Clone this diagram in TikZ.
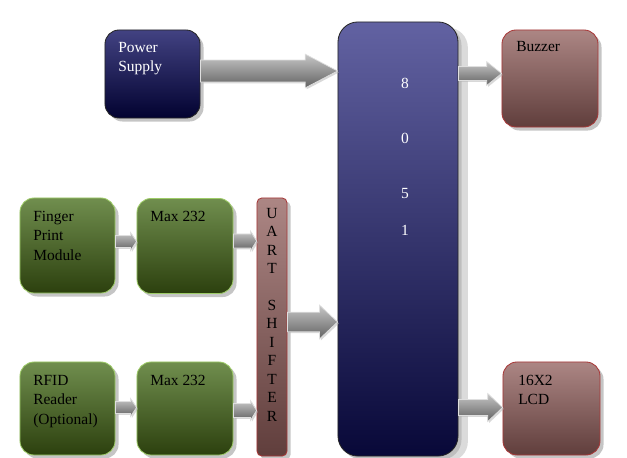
\documentclass[tikz,border=0pt]{standalone}
\usepackage{fontspec}
\setmainfont{Liberation Serif}
\usetikzlibrary{calc,shadows}
\definecolor{navytop}{RGB}{66,66,130}
\definecolor{navybot}{RGB}{2,2,48}
\definecolor{mcutop}{RGB}{98,98,162}
\definecolor{mcubot}{RGB}{8,8,56}
\definecolor{roseTop}{RGB}{172,134,132}
\definecolor{roseBot}{RGB}{96,62,60}
\definecolor{roseLine}{RGB}{168,56,56}
\definecolor{greenTop}{RGB}{112,142,78}
\definecolor{greenBot}{RGB}{44,64,14}
\definecolor{greenLine}{RGB}{158,204,104}
\newcommand{\fatarrow}[5]{% from, to, half shaft, half head, head length
  \path[fatarr] let \p1=(#1), \p2=(#2) in
    (\x1,{\y1+#3}) -- ({\x2-#5},{\y1+#3}) -- ({\x2-#5},{\y1+#4}) --
    (\x2,\y1) -- ({\x2-#5},{\y1-#4}) -- ({\x2-#5},{\y1-#3}) --
    (\x1,{\y1-#3}) -- cycle;}

\begin{document}
\begin{tikzpicture}[x=0.025cm,y=-0.025cm,
    box/.style={rounded corners=0.35cm,inner sep=0pt,minimum width=2.375cm,
      minimum height=2.375cm,line width=0.6pt,
      drop shadow={shadow xshift=2.5pt,shadow yshift=-2.5pt,fill=black!45}},
    navybox/.style={box,draw=black!85,top color=navytop,bottom color=navybot},
    greenbox/.style={box,draw=greenLine,top color=greenTop,bottom color=greenBot},
    rosebox/.style={box,draw=roseLine,top color=roseTop,bottom color=roseBot},
    fatarr/.style={draw=white!75!gray,line width=0.5pt,top color=black!22,
      bottom color=black!62,drop shadow={shadow xshift=1pt,shadow yshift=-1pt,fill=black!30}},
    txt/.style={anchor=north west,align=left,inner sep=0pt,
      font=\fontsize{11}{13.8}\selectfont}]
  \useasboundingbox (0,0) rectangle (627,458);
  % blocks
  \node[navybox,minimum height=2.2cm] (ps) at (152.5,74) {};
  \node[box,draw=black!85,top color=mcutop,bottom color=mcubot,
    rounded corners=0.5cm,minimum width=3cm,minimum height=10.85cm,
    drop shadow={shadow xshift=7pt,shadow yshift=-4pt,fill=black!28}] (mcu) at (398,239) {};
  \node[rosebox,minimum width=2.4cm,minimum height=2.425cm] (bz) at (550,78.5) {};
  \node[greenbox] (fp) at (67.5,245.5) {};
  \node[greenbox,minimum width=2.4cm] (mx1) at (185,246) {};
  \node[rosebox,rounded corners=0.12cm,minimum width=0.75cm,minimum height=6.45cm] (uart) at (272,327) {};
  \node[greenbox,minimum height=2.325cm] (rf) at (67.5,408.5) {};
  \node[greenbox,minimum width=2.4cm,minimum height=2.325cm] (mx2) at (185,408.5) {};
  \node[rosebox,minimum width=2.425cm,minimum height=2.325cm] (lcd) at (551.5,408.5) {};
  % texts
  \node[txt,text=white] (ps-t) at (118,42) {Power\\Supply};
  \node[txt] (bz-t) at (516,41) {Buzzer};
  \node[txt] (fp-t) at (33,211) {Finger\\Print\\Module};
  \node[txt] (mx1-t) at (150,211) {Max 232};
  \node[txt] (rf-t) at (33,375) {RFID\\Reader\\(Optional)};
  \node[txt] (mx2-t) at (150,375) {Max 232};
  \node[txt] (lcd-t) at (518,375) {16X2\\LCD};
  \node[txt,anchor=north,align=center,font=\fontsize{11}{13.1}\selectfont]
    (uart-t) at (272,208) {U\\A\\R\\T\\ \\S\\H\\I\\F\\T\\E\\R};
  \node[txt,anchor=north,text=white] (d8) at (405,78) {8};
  \node[txt,anchor=north,text=white] (d0) at (405,133) {0};
  \node[txt,anchor=north,text=white] (d5) at (405,188) {5};
  \node[txt,anchor=north,text=white] (d1) at (405,225) {1};
  % arrows
  \fatarrow{$(ps.east)+(0,-3)$}{$(mcu.west |- ps.east)$}{7.8pt}{12pt}{23pt}
  \fatarrow{$(mcu.east |- bz.west)+(0,-5)$}{$(bz.west)$}{5pt}{8.5pt}{10.6pt}
  \fatarrow{$(fp.east)+(0,-4)$}{$(mx1.west)$}{4.2pt}{6.4pt}{4.3pt}
  \fatarrow{$(mx1.east)+(0,-5)$}{$(uart.west)$}{5pt}{7pt}{4.3pt}
  \fatarrow{$(uart.east)+(0,-5)$}{$(mcu.west |- uart.east)$}{7pt}{12pt}{12.8pt}
  \fatarrow{$(rf.east)+(0,-1)$}{$(mx2.west)$}{4.2pt}{6.4pt}{4.3pt}
  \fatarrow{$(mx2.east)+(0,2)$}{$(uart.west)$}{5pt}{7pt}{4.3pt}
  \fatarrow{$(mcu.east |- lcd.west)+(0,-1)$}{$(lcd.west)$}{5.7pt}{10pt}{10.6pt}
\end{tikzpicture}
\end{document}
